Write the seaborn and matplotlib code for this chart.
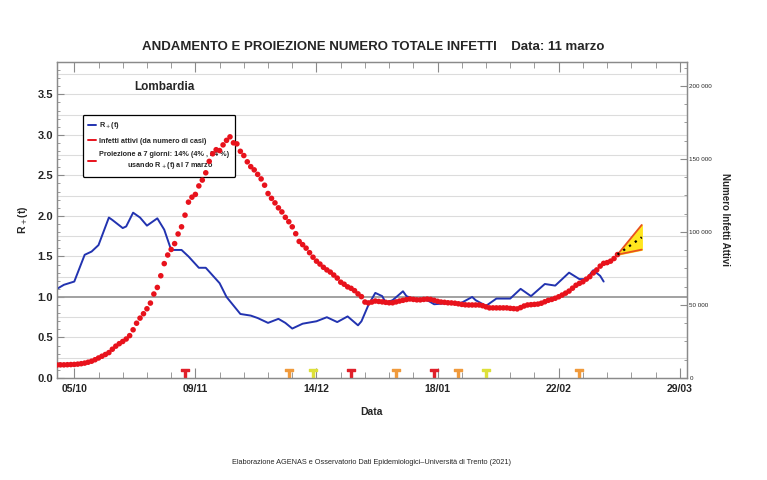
import numpy as np
import pandas as pd
import matplotlib
matplotlib.use("Agg")
import matplotlib.pyplot as plt
import matplotlib.dates as mdates
from matplotlib.lines import Line2D
from matplotlib.ticker import FuncFormatter, MultipleLocator, FixedLocator
import seaborn as sns

# R+(t) stimato
rt_dates = [
    "2020-09-30", "2020-10-02", "2020-10-05", "2020-10-08", "2020-10-10", "2020-10-12",
    "2020-10-15", "2020-10-16", "2020-10-19", "2020-10-20", "2020-10-22", "2020-10-24",
    "2020-10-26", "2020-10-29", "2020-10-31", "2020-11-02", "2020-11-05", "2020-11-07",
    "2020-11-10", "2020-11-12", "2020-11-16", "2020-11-18", "2020-11-22", "2020-11-25",
    "2020-11-27", "2020-11-30", "2020-12-03", "2020-12-05", "2020-12-07", "2020-12-10",
    "2020-12-14", "2020-12-17", "2020-12-20", "2020-12-23", "2020-12-26", "2020-12-27",
    "2020-12-29", "2020-12-31", "2021-01-02", "2021-01-03", "2021-01-05", "2021-01-08",
    "2021-01-09", "2021-01-12", "2021-01-15", "2021-01-17", "2021-01-20", "2021-01-25",
    "2021-01-28", "2021-01-29", "2021-02-01", "2021-02-04", "2021-02-08", "2021-02-11",
    "2021-02-14", "2021-02-18", "2021-02-21", "2021-02-25", "2021-02-28", "2021-03-02",
    "2021-03-04", "2021-03-06", "2021-03-07",
]
rt_values = [
    1.10, 1.15, 1.19, 1.52, 1.56, 1.64,
    1.98, 1.95, 1.85, 1.87, 2.04, 1.98,
    1.88, 1.97, 1.83, 1.58, 1.58, 1.50,
    1.36, 1.36, 1.17, 1.00, 0.79, 0.77,
    0.74, 0.68, 0.73, 0.68, 0.61, 0.67,
    0.70, 0.75, 0.69, 0.76, 0.65, 0.70,
    0.90, 1.05, 1.01, 0.93, 0.96, 1.07,
    1.01, 0.96, 0.96, 0.91, 0.92, 0.93,
    1.00, 0.96, 0.89, 0.98, 0.98, 1.10,
    1.01, 1.16, 1.14, 1.30, 1.22, 1.22,
    1.33, 1.26, 1.19,
]

# infetti attivi, un valore al giorno dal 30/09/2020 all'11/03/2021
infetti_start = "2020-09-30"
infetti_values = [
    8900, 9000, 9000, 9100, 9200, 9300, 9500, 9800, 10200, 10800,
    11500, 12500, 13700, 14900, 16100, 17400, 19700, 21800, 23500, 25000,
    26700, 29000, 33000, 37500, 41000, 44000, 47400, 51300, 57500, 62000,
    70000, 78300, 84200, 88000, 92000, 98600, 103500, 111500, 120400, 123800,
    125700, 131500, 135500, 140500, 148300, 153500, 156300, 155700, 159600, 162700,
    165100, 161000, 160300, 155200, 152300, 148000, 144700, 142500, 139400, 136300,
    132000, 126300, 123000, 119900, 116500, 113700, 110000, 107000, 103500, 98800,
    93500, 91300, 88900, 85800, 82700, 80000, 78000, 75800, 74000, 72500,
    70500, 68400, 65600, 64200, 62400, 61400, 59800, 57600, 55700, 52000,
    51400, 52000, 52700, 52400, 52100, 51800, 51500, 51500, 52100, 52700,
    53200, 53700, 54100, 53800, 53500, 53500, 53800, 54000, 53800, 53200,
    52500, 52000, 51800, 51500, 51400, 51200, 50800, 50400, 50100, 50000,
    50000, 50000, 50000, 49500, 48700, 48000, 48000, 48000, 48000, 48000,
    48000, 47700, 47500, 47300, 48200, 49300, 50000, 50200, 50400, 50600,
    51200, 52200, 53200, 53800, 54600, 55600, 56800, 58100, 59500, 61500,
    63500, 64800, 65900, 67700, 69400, 71900, 74000, 76600, 78500, 79000,
    80000, 81800, 84500,
]

# proiezione a 7 giorni: variazione percentuale (centrale, min, max)
proj_days = 7
proj_pct = 14
proj_low_pct = 4
proj_high_pct = 24

# cambi di colore della zona
zone_dates = ["2020-11-06", "2020-12-06", "2020-12-13", "2020-12-24", "2021-01-06",
              "2021-01-17", "2021-01-24", "2021-02-01", "2021-02-28"]
zone_colors = ["rossa", "arancione", "gialla", "rossa", "arancione",
               "rossa", "arancione", "gialla", "arancione"]

xtick_dates = ["2020-10-05", "2020-11-09", "2020-12-14", "2021-01-18", "2021-02-22", "2021-03-29"]

zone_palette = {"rossa": "#E0202A", "arancione": "#F09A3C", "gialla": "#DDE03A"}
BLUE = "#2233B0"
RED = "#E8121C"

sns.set_style("ticks")
plt.rcParams['font.family'] = ['Liberation Sans', 'DejaVu Sans']

rt = pd.DataFrame({"data": pd.to_datetime(rt_dates), "rt": rt_values})
inf = pd.DataFrame({
    "data": pd.date_range(infetti_start, periods=len(infetti_values), freq="D"),
    "infetti": infetti_values,
})

fig = plt.figure(figsize=(7.67, 4.80), dpi=100)
ax = fig.add_axes([0.0743, 0.2125, 0.821, 0.6585])
ax2 = ax.twinx()

# griglia orizzontale
for g in np.arange(0.25, 3.9, 0.25):
    if abs(g - 1.0) < 1e-9:
        ax.axhline(g, color="#9a9a9a", lw=1.3, zorder=1)
    else:
        ax.axhline(g, color="#dcdcdc", lw=0.8, zorder=0)

sns.lineplot(data=rt, x="data", y="rt", ax=ax, color=BLUE, lw=1.4, zorder=3)

# marcatori cambi zona
zd = pd.DataFrame({"data": pd.to_datetime(zone_dates), "zona": zone_colors})
for zona, grp in zd.groupby("zona"):
    ax.scatter(grp["data"], [0.06] * len(grp), marker=r"$\mathbf{T}$", s=30,
               color=zone_palette[zona], zorder=4, clip_on=False)

# legenda sotto i punti rossi (come nell'originale)
handles = [
    Line2D([], [], color=BLUE, lw=1.4),
    Line2D([], [], color=RED, lw=1.4),
    Line2D([], [], color=RED, lw=1.4),
]
labels = [
    "R$_+$(t)",
    "Infetti attivi (da numero di casi)",
    "Proiezione a 7 giorni: 14% (4% , 24 %)\n              usando R$_+$(t) al 7 marzo",
]
leg = ax.legend(handles, labels, loc="upper left", bbox_to_anchor=(0.035, 0.845),
                fontsize=5.2, handlelength=1.0, handletextpad=0.5, labelspacing=0.9,
                frameon=True, fancybox=True, edgecolor="black", borderpad=0.8,
                framealpha=1)
leg.get_frame().set_linewidth(0.9)
for t in leg.get_texts():
    t.set_fontweight("bold")

sns.scatterplot(data=inf, x="data", y="infetti", ax=ax2, color=RED, s=16,
                edgecolor="none", zorder=5)

# proiezione
last_date = inf["data"].iloc[-1]
base = infetti_values[-1]
px = [last_date, last_date + pd.Timedelta(days=proj_days)]
p_mid = [base, base * (1 + proj_pct / 100)]
p_low = [base, base * (1 + proj_low_pct / 100)]
p_high = [base, base * (1 + proj_high_pct / 100)]
ax2.fill_between(px, p_low, p_high, color="#FFE61E", zorder=4)
ax2.plot(px, p_low, color="#E8501E", lw=1.3, zorder=5)
ax2.plot(px, p_high, color="#E8501E", lw=1.3, zorder=5)
ax2.plot(px, p_mid, color="black", lw=1.6, ls=(0, (1, 2.2)), zorder=6)

# assi
ax.set_xlim(mdates.date2num(pd.Timestamp("2020-09-30")), mdates.date2num(pd.Timestamp("2021-03-31")))
ax.set_ylim(0, 3.9)
ax2.set_ylim(0, 216400)

ax.xaxis.set_major_locator(FixedLocator(mdates.date2num(pd.to_datetime(xtick_dates))))
ax.xaxis.set_major_formatter(mdates.DateFormatter("%d/%m"))
ax.xaxis.set_minor_locator(mdates.WeekdayLocator(byweekday=mdates.MO))
ax.yaxis.set_major_locator(MultipleLocator(0.5))
ax.yaxis.set_minor_locator(MultipleLocator(0.1))
ax.yaxis.set_major_formatter(FuncFormatter(lambda v, p: f"{v:.1f}"))
ax2.yaxis.set_major_locator(MultipleLocator(50000))
ax2.yaxis.set_minor_locator(MultipleLocator(12500))
ax2.yaxis.set_major_formatter(FuncFormatter(lambda v, p: f"{int(v):,}".replace(",", " ")))

ax.tick_params(axis="both", which="both", direction="in", top=True, right=False, color="#8a8a8a")
ax.tick_params(axis="x", which="major", length=7, width=0.8, labelsize=7.5, pad=4)
ax.tick_params(axis="x", which="minor", length=4, width=0.6)
ax.tick_params(axis="y", which="major", length=5, labelsize=8, pad=3)
ax.tick_params(axis="y", which="minor", length=2.5)
ax2.tick_params(axis="y", which="both", direction="in", color="#8a8a8a")
ax2.tick_params(axis="y", which="major", length=5, labelsize=4.5, pad=2)
ax2.tick_params(axis="y", which="minor", length=2.5)
for lab in ax.get_xticklabels() + ax.get_yticklabels():
    lab.set_fontweight("bold")

for a in (ax, ax2):
    for s in a.spines.values():
        s.set_color("#8a8a8a")
        s.set_linewidth(0.9)
        s.set_visible(True)

ax.set_xlabel("Data", fontsize=7.5, fontweight="bold", labelpad=10)
ax.set_ylabel("R$_+$(t)", fontsize=7.5, fontweight="bold", labelpad=5)
ax2.set_ylabel("Numero Infetti Attivi", fontsize=7, fontweight="bold", rotation=-90, labelpad=13)

ax.text(0.171, 0.92, "Lombardia", transform=ax.transAxes, ha="center", va="center",
        fontsize=8.5, fontweight="bold")

fig.text(0.486, 0.902, "ANDAMENTO E PROIEZIONE NUMERO TOTALE INFETTI    Data: 11 marzo",
         ha="center", va="center", fontsize=9.5, fontweight="bold")
fig.text(0.485, 0.037,
         "Elaborazione AGENAS e Osservatorio Dati Epidemiologici\u2013Universit\u00e0 di Trento (2021)",
         ha="center", va="center", fontsize=5.3)

fig.savefig("out.png", dpi=100)
